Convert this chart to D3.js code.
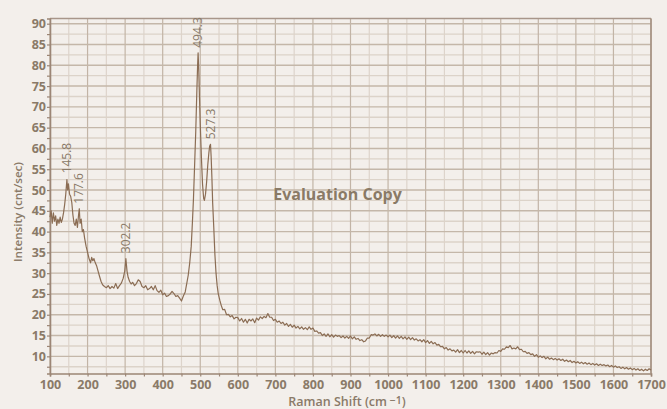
<!DOCTYPE html>
<html>
<head>
<meta charset="utf-8">
<script src="https://cdn.jsdelivr.net/npm/d3@7"></script>
<style>
  html, body { margin: 0; padding: 0; background: #f3efeb; }
  svg { display: block; }
  text { font-family: "Open Sans", "Noto Sans", sans-serif; }
</style>
</head>
<body>
<svg id="chart" width="667" height="409"></svg>
<script>
// ---- data ----
const shifts = [
  100,103,106,109,112,115,118,121,124,127,130,133,136,139,142,145,147,149,152,155,158,161,164,167,170,173,176,178,180,183,186,189,192,196,
  200,204,208,211,214,217,220,224,228,232,236,240,245,250,255,260,265,270,275,280,285,290,295,299,302,305,308,312,316,320,325,330,335,340,
  345,350,355,360,365,370,375,380,385,390,395,400,405,410,415,420,425,430,435,440,445,450,455,460,464,468,472,476,479,482,485,488,491,493,
  494.3,496,498,500,503,506,509,511,514,517,520,523,525,527.3,529,531,533,536,539,542,545,548,552,556,560,565,570,575,580,585,590,595,
  600,605,610,615,620,625,630,635,640,645,650,655,660,665,670,675,680,685,690,695,700,705,710,715,720,725,730,735,740,745,750,755,760,765,
  770,775,780,785,790,795,800,805,810,815,820,825,830,835,840,845,850,855,860,865,870,875,880,885,890,895,900,905,910,915,920,925,930,935,
  940,945,950,955,960,965,970,975,980,985,990,995,1000,1005,1010,1015,1020,1025,1030,1035,1040,1045,1050,1055,1060,1065,1070,1075,1080,
  1085,1090,1095,1100,1105,1110,1115,1120,1125,1130,1135,1140,1145,1150,1155,1160,1165,1170,1175,1180,1185,1190,1195,1200,1205,1210,1215,
  1220,1225,1230,1235,1240,1245,1250,1255,1260,1265,1270,1275,1280,1285,1290,1295,1300,1305,1310,1315,1320,1325,1330,1335,1340,1345,1350,
  1355,1360,1365,1370,1375,1380,1385,1390,1395,1400,1405,1410,1415,1420,1425,1430,1435,1440,1445,1450,1455,1460,1465,1470,1475,1480,1485,
  1490,1495,1500,1505,1510,1515,1520,1525,1530,1535,1540,1545,1550,1555,1560,1565,1570,1575,1580,1585,1590,1595,1600,1605,1610,1615,1620,
  1625,1630,1635,1640,1645,1650,1655,1660,1665,1670,1675,1680,1685,1690,1695,1700
];
const intensities = [
  43.5,45.0,42.0,44.5,42.5,43.8,41.5,43.0,42.0,43.5,42.2,43.0,44.5,46.5,49.0,52.5,50.0,51.5,49.0,48.5,47.0,44.0,42.0,41.5,43.0,41.0,44.0,45.5,42.0,43.0,40.0,40.5,38.5,36.5,
  35.0,33.5,32.5,33.8,33.0,33.5,32.6,31.8,30.5,29.2,28.0,27.2,26.8,26.5,27.0,26.3,26.8,26.4,27.5,26.3,27.0,27.6,28.8,30.5,33.5,30.5,29.0,28.0,27.4,27.8,27.0,27.5,28.4,28.0,
  26.8,26.5,27.0,26.0,26.3,26.8,26.0,27.0,25.8,25.4,25.9,24.8,25.2,24.4,24.6,25.0,25.6,25.1,24.4,24.6,24.0,23.3,24.5,25.5,27.5,29.5,32.5,36.5,42.0,48.0,56.0,64.0,74.0,80.0,
  83.0,79.0,72.0,66.0,58.0,51.5,48.0,47.5,49.0,52.0,56.0,59.0,60.5,61.0,58.0,53.0,47.0,41.0,34.5,30.0,27.0,25.0,23.5,22.2,21.2,21.3,20.0,20.1,19.5,19.8,19.0,19.4,
  19.3,18.5,19.1,18.2,18.9,18.0,18.9,18.5,19.0,18.1,19.2,18.7,19.5,19.1,19.6,19.3,20.3,19.4,19.4,18.6,18.9,18.2,18.5,17.9,18.2,17.5,17.9,17.2,17.7,17.0,17.5,16.8,17.2,16.6,
  17.1,16.5,16.9,16.4,17.1,16.5,16.8,16.0,16.1,15.6,15.7,15.0,15.4,14.8,15.4,14.7,15.2,14.6,15.1,14.8,15.0,14.5,14.9,14.4,14.8,14.3,14.9,14.2,14.7,14.1,14.3,13.8,14.0,13.5,
  13.7,14.4,14.4,15.2,15.1,15.4,14.9,15.3,14.8,15.2,14.8,15.1,14.7,15.1,14.5,15.0,14.4,14.9,14.3,14.8,14.2,14.7,14.1,14.6,14.0,14.5,13.9,14.2,13.7,
  14.0,13.5,14.0,13.3,13.8,13.1,13.6,13.0,13.3,12.7,12.9,12.3,12.4,11.8,12.1,11.5,11.8,11.3,11.5,11.0,11.6,10.9,11.4,10.8,11.4,10.8,11.3,
  10.7,11.2,10.6,11.1,11.0,11.1,10.5,11.0,10.4,10.9,10.3,10.8,10.6,10.9,10.8,11.4,11.2,11.8,11.7,12.3,12.1,12.6,11.8,12.0,11.8,12.3,11.6,
  11.7,11.1,11.2,10.7,10.9,10.4,10.6,10.0,10.4,9.8,10.1,9.7,10.0,9.4,9.8,9.3,9.6,9.2,9.5,9.1,9.4,9.0,9.3,8.8,9.1,8.7,9.0,
  8.5,8.8,8.4,8.7,8.3,8.6,8.2,8.5,8.1,8.4,8.0,8.3,7.9,8.2,7.8,8.1,7.8,8.0,7.7,7.9,7.5,7.8,7.4,7.7,7.3,7.5,7.1,
  7.4,7.0,7.3,6.9,7.2,6.8,7.1,6.7,7.0,6.6,6.9,6.5,6.9,6.6,7.0,6.7
];
const peakShifts = [145.8, 177.6, 302.2, 494.3, 527.3];
const peakHeights = [52.8, 45.5, 33.6, 83.0, 61.0];
const peakLabels = ["145.8", "177.6", "302.2", "494.3", "527.3"];
const xTickValues = [100,200,300,400,500,600,700,800,900,1000,1100,1200,1300,1400,1500,1600,1700];
const yTickValues = [10,15,20,25,30,35,40,45,50,55,60,65,70,75,80,85,90];
const xTitle = "Raman Shift (cm";
const yTitle = "Intensity (cnt/sec)";
const watermark = "Evaluation Copy";

// ---- drawing ----
const svg = d3.select("#chart");
const textCol = "#8a7a68";
const pLeft = 50, pRight = 651, pTop = 18.5, pBottom = 373.5;

const x = d3.scaleLinear().domain([100, 1700]).range([pLeft, pRight]);
const y = d3.scaleLinear().domain([5.87, 91.25]).range([pBottom, pTop]);

svg.append("rect").attr("width", 667).attr("height", 409).attr("fill", "#f3efeb");

const xMinor = d3.range(150, 1700, 100);
const yMinor = d3.range(7.5, 90, 5);

const grid = svg.append("g");
grid.selectAll(".vminor").data(xMinor).join("line")
  .attr("x1", d => x(d)).attr("x2", d => x(d)).attr("y1", pTop).attr("y2", pBottom)
  .attr("stroke", "#ddd4cb").attr("stroke-width", 1.2);
grid.selectAll(".hminor").data(yMinor).join("line")
  .attr("x1", pLeft).attr("x2", pRight).attr("y1", d => y(d)).attr("y2", d => y(d))
  .attr("stroke", "#dcd3c9").attr("stroke-width", 1.4);
grid.selectAll(".vmajor").data(xTickValues).join("line")
  .attr("x1", d => x(d)).attr("x2", d => x(d)).attr("y1", pTop).attr("y2", pBottom)
  .attr("stroke", "#c2b4a6").attr("stroke-width", 1.2);
grid.selectAll(".hmajor").data(yTickValues).join("line")
  .attr("x1", pLeft).attr("x2", pRight).attr("y1", d => y(d)).attr("y2", d => y(d))
  .attr("stroke", "#c4b7a9").attr("stroke-width", 1.4);

// frame
svg.append("line").attr("x1", pLeft).attr("x2", pRight).attr("y1", pTop).attr("y2", pTop)
  .attr("stroke", "#a8968a").attr("stroke-width", 1.5);
svg.append("line").attr("x1", pRight).attr("x2", pRight).attr("y1", pTop).attr("y2", pBottom)
  .attr("stroke", "#a08c7c").attr("stroke-width", 1.5);

// axes
const xAxis = svg.append("g").attr("transform", `translate(0,${pBottom})`)
  .call(d3.axisBottom(x).tickValues(d3.range(100, 1701, 50)).tickSize(3)
    .tickFormat(d => xTickValues.includes(d) ? d : ""));
const yAxis = svg.append("g").attr("transform", `translate(${pLeft},0)`)
  .call(d3.axisLeft(y).tickValues(d3.range(7.5, 90.1, 2.5)).tickSize(3)
    .tickFormat(d => yTickValues.includes(d) ? d : ""));
[xAxis, yAxis].forEach(a => {
  a.select(".domain").attr("stroke", "#9c8676").attr("stroke-width", 1.6);
  a.selectAll(".tick line").attr("stroke", "#9c8676").attr("stroke-width", 1.2);
  a.selectAll(".tick text").attr("fill", textCol).attr("font-size", 12.5)
    .attr("font-weight", 700).style("font-family", "'Open Sans', sans-serif");
});
xAxis.selectAll(".tick text").attr("dy", "0.71em").attr("y", 6.5);
yAxis.selectAll(".tick text").attr("x", -4);

// spectrum
const pts = shifts.map((s, i) => [s, intensities[i]]);
svg.append("path").datum(pts)
  .attr("fill", "none").attr("stroke", "#8b6d54").attr("stroke-width", 1.2)
  .attr("stroke-linejoin", "round")
  .attr("d", d3.line().x(d => x(d[0])).y(d => y(d[1])));

// peak labels
svg.selectAll(".peak").data(peakShifts).join("text")
  .attr("transform", (d, i) => `translate(${x(d)},${y(peakHeights[i]) - 5}) rotate(-90)`)
  .attr("dy", "0.35em").attr("text-anchor", "start")
  .attr("fill", textCol).attr("font-size", 12)
  .text((d, i) => peakLabels[i]);

// watermark
svg.append("text").attr("x", 337.5).attr("y", 200).attr("text-anchor", "middle")
  .attr("fill", "#8a7a66").attr("font-size", 16).attr("font-weight", 700)
  .text(watermark);

// axis titles
const xt = svg.append("text").attr("x", 347).attr("y", 406)
  .attr("text-anchor", "middle").attr("fill", textCol)
  .attr("font-size", 12.5).attr("font-weight", 600);
xt.append("tspan").text(xTitle);
xt.append("tspan").attr("dy", -2).attr("font-size", 10.5).text(" \u22121");
xt.append("tspan").attr("dy", 2).text(")");

svg.append("text").attr("transform", `translate(18,212) rotate(-90)`)
  .attr("text-anchor", "middle").attr("dy", "0.35em").attr("fill", textCol)
  .attr("font-size", 11).attr("font-weight", 600)
  .attr("textLength", 100).attr("lengthAdjust", "spacingAndGlyphs")
  .text(yTitle);
</script>
</body>
</html>
